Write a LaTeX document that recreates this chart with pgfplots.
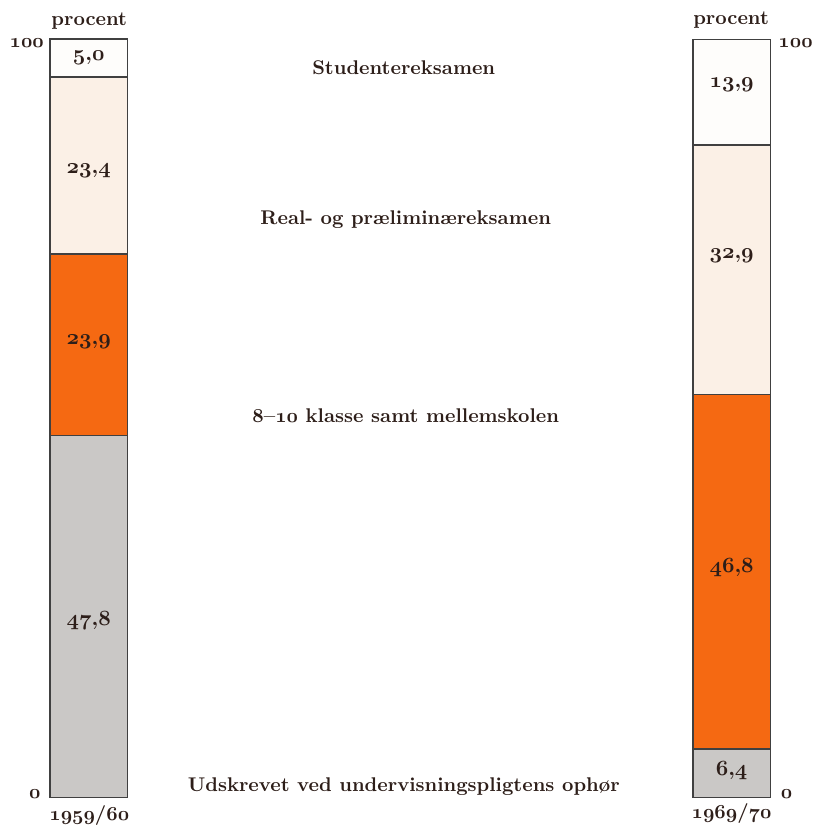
\documentclass[border=0pt]{standalone}
\usepackage{pgfplots}
\pgfplotsset{compat=1.18}
\definecolor{ink}{RGB}{45,30,25}
\definecolor{graa}{RGB}{202,200,198}
\definecolor{ildorange}{RGB}{245,105,18}
\definecolor{creme}{RGB}{251,240,230}
\definecolor{hvid}{RGB}{254,253,251}
\newcommand{\os}[1]{{\usefont{OML}{cmm}{b}{it}#1}}

\pgfplotsset{
  ramme/.style={
    scale only axis, width=408.5pt, height=416pt,
    xmin=0, xmax=817, ymin=-3.66, ymax=105.24,
    hide axis, clip=false,
    font=\fontsize{10}{12}\selectfont\bfseries,
  },
}

\begin{document}
\begin{tikzpicture}
\begin{axis}[ramme, ybar stacked, bar width=78]
  \addplot[fill=graa, draw=black!75, line width=0.7pt] coordinates {(89.5,47.8) (737.5,6.4)};
  \addplot[fill=ildorange, draw=black!75, line width=0.7pt] coordinates {(89.5,23.9) (737.5,46.8)};
  \addplot[fill=creme, draw=black!75, line width=0.7pt] coordinates {(89.5,23.4) (737.5,32.9)};
  \addplot[fill=hvid, draw=black!75, line width=0.7pt] coordinates {(89.5,5.0) (737.5,13.9)};
  \path (rel axis cs:0,0) rectangle (rel axis cs:1,1);
\end{axis}
\begin{axis}[ramme]
  % tal i felterne
  \addplot[draw=none, mark=none, nodes near coords, nodes near coords align={center},
    point meta=explicit symbolic,
    every node near coord/.append style={text=ink, font=\fontsize{10.5}{12}\selectfont\bfseries}]
    coordinates {
      (89.5,97.6)[\os{5},\os{0}]
      (89.5,82.7)[\os{23},\os{4}]
      (89.5,60.2)[\os{23},\os{9}]
      (89.5,23.4)[\os{47},\os{8}]
      (737.5,94.0)[\os{13},\os{9}]
      (737.5,71.5)[\os{32},\os{9}]
      (737.5,30.4)[\os{46},\os{8}]
      (737.5,3.5)[\os{6},\os{4}]
    };
  \begin{scope}[every node/.style={text=ink, font=\fontsize{10}{12}\selectfont\bfseries}]
    \node at (axis cs:90,102.4) {procent};
    \node at (axis cs:737,102.6) {procent};
    \node at (axis cs:27,99.6) {\os{100}};
    \node at (axis cs:35,0.5) {\os{0}};
    \node at (axis cs:802,99.6) {\os{100}};
    \node at (axis cs:793,0.5) {\os{0}};
    \node at (axis cs:90,-2.36) {\os{1959}/\os{60}};
    \node at (axis cs:737.5,-2.1) {\os{1969}/\os{70}};
    \node at (axis cs:407,96.3) {Studentereksamen};
    \node at (axis cs:409,76.2) {Real- og præliminæreksamen};
    \node at (axis cs:409,50.4) {8--\os{10} klasse samt mellemskolen};
    \node at (axis cs:407,1.44) {Udskrevet ved undervisningspligtens ophør};
  \end{scope}
\end{axis}
\end{tikzpicture}
\end{document}
